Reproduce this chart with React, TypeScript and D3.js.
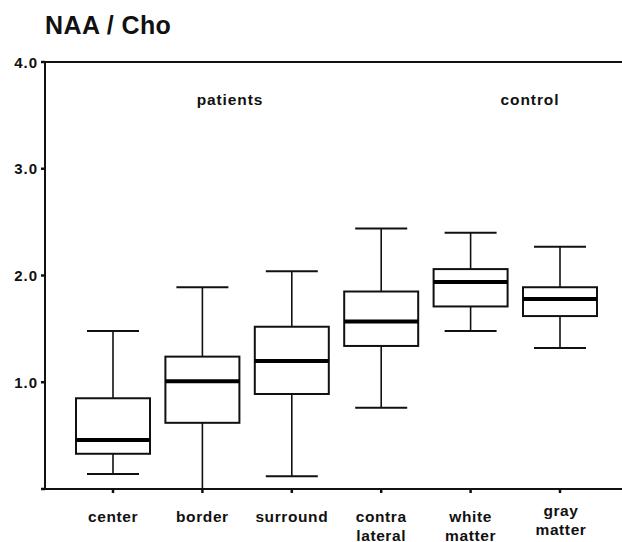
import React from "react";
import * as d3 from "d3";

const categories = ["center", "border", "surround", "contra lateral", "white matter", "gray matter"];
const labelLines = [["center"], ["border"], ["surround"], ["contra", "lateral"], ["white", "matter"], ["gray", "matter"]];
const whiskerLow = [0.14, 0.0, 0.12, 0.76, 1.48, 1.32];
const q1 = [0.33, 0.62, 0.89, 1.34, 1.71, 1.62];
const median = [0.46, 1.01, 1.2, 1.57, 1.94, 1.78];
const q3 = [0.85, 1.24, 1.52, 1.85, 2.06, 1.89];
const whiskerHigh = [1.48, 1.89, 2.04, 2.44, 2.4, 2.27];
const yTicks = [1, 2, 3, 4];
const groupLabels = [
  { text: "patients", from: 0, to: 2 },
  { text: "control", from: 4, to: 5 },
];

const W = 622;
const H = 542;
const FONT = "'Liberation Sans', Arial, Helvetica, sans-serif";

export default function App() {
  const x = d3.scalePoint<string>().domain(categories).range([113, 560]);
  const y = d3.scaleLinear().domain([0, 4]).range([489, 62]);
  const boxW = 74;
  const capW = 52;
  const axisX = 45;
  const y0 = y(0);

  return (
    <svg width={W} height={H} style={{ position: "absolute", left: 0, top: 0, background: "#fff" }}>
      <rect width={W} height={H} fill="#fff" />
      <text x={45} y={34} fontFamily={FONT} fontWeight="bold" fontSize={25} letterSpacing={0.4} fill="#111">
        NAA / Cho
      </text>
      {/* frame lines */}
      <line x1={axisX} x2={W} y1={y(4)} y2={y(4)} stroke="#111" strokeWidth={2} />
      <line x1={axisX} x2={axisX} y1={y(4) - 1} y2={y0 + 1} stroke="#111" strokeWidth={2} />
      <line x1={axisX - 4} x2={W} y1={y0} y2={y0} stroke="#111" strokeWidth={2} />
      {/* y ticks */}
      {[0, ...yTicks].map((t) => (
        <line key={"yt" + t} x1={axisX - 4} x2={axisX} y1={y(t)} y2={y(t)} stroke="#111" strokeWidth={2.5} />
      ))}
      {yTicks.map((t) => (
        <text
          key={"yl" + t}
          x={38}
          y={y(t) + 5.5}
          textAnchor="end"
          fontFamily={FONT}
          fontWeight="bold"
          fontSize={15}
          letterSpacing={1}
          fill="#111"
        >
          {t.toFixed(1)}
        </text>
      ))}
      {/* x ticks and labels */}
      {categories.map((c, i) => (
        <g key={"xc" + i}>
          <line x1={x(c)!} x2={x(c)!} y1={y0} y2={y0 + 4} stroke="#111" strokeWidth={2.5} />
          {labelLines[i].map((ln, j) => (
            <text
              key={j}
              x={x(c)! + (i === 5 ? 1 : 0)}
              y={(labelLines[i].length === 2 && i === 5 ? 516 : 522) + j * 19}
              textAnchor="middle"
              fontFamily={FONT}
              fontWeight="bold"
              fontSize={15.5}
              letterSpacing={0.6}
              fill="#111"
            >
              {ln}
            </text>
          ))}
        </g>
      ))}
      {/* group labels */}
      {groupLabels.map((g) => (
        <text
          key={g.text}
          x={g.text === "patients" ? 230 : 530}
          y={105}
          textAnchor="middle"
          fontFamily={FONT}
          fontWeight="bold"
          fontSize={15.5}
          letterSpacing={0.9}
          fill="#111"
        >
          {g.text}
        </text>
      ))}
      {/* boxes */}
      {categories.map((c, i) => {
        const cx = x(c)!;
        return (
          <g key={"b" + i}>
            <line x1={cx} x2={cx} y1={y(whiskerHigh[i])} y2={y(q3[i])} stroke="#111" strokeWidth={1.6} />
            <line x1={cx} x2={cx} y1={y(q1[i])} y2={y(whiskerLow[i])} stroke="#111" strokeWidth={1.6} />
            <line x1={cx - capW / 2} x2={cx + capW / 2} y1={y(whiskerHigh[i])} y2={y(whiskerHigh[i])} stroke="#111" strokeWidth={2} />
            {whiskerLow[i] > 0.01 && (
              <line x1={cx - capW / 2} x2={cx + capW / 2} y1={y(whiskerLow[i])} y2={y(whiskerLow[i])} stroke="#111" strokeWidth={2} />
            )}
            <rect
              x={cx - boxW / 2}
              y={y(q3[i])}
              width={boxW}
              height={y(q1[i]) - y(q3[i])}
              fill="#fff"
              stroke="#111"
              strokeWidth={2}
            />
            <line x1={cx - boxW / 2} x2={cx + boxW / 2} y1={y(median[i])} y2={y(median[i])} stroke="#000" strokeWidth={4} />
          </g>
        );
      })}
    </svg>
  );
}
